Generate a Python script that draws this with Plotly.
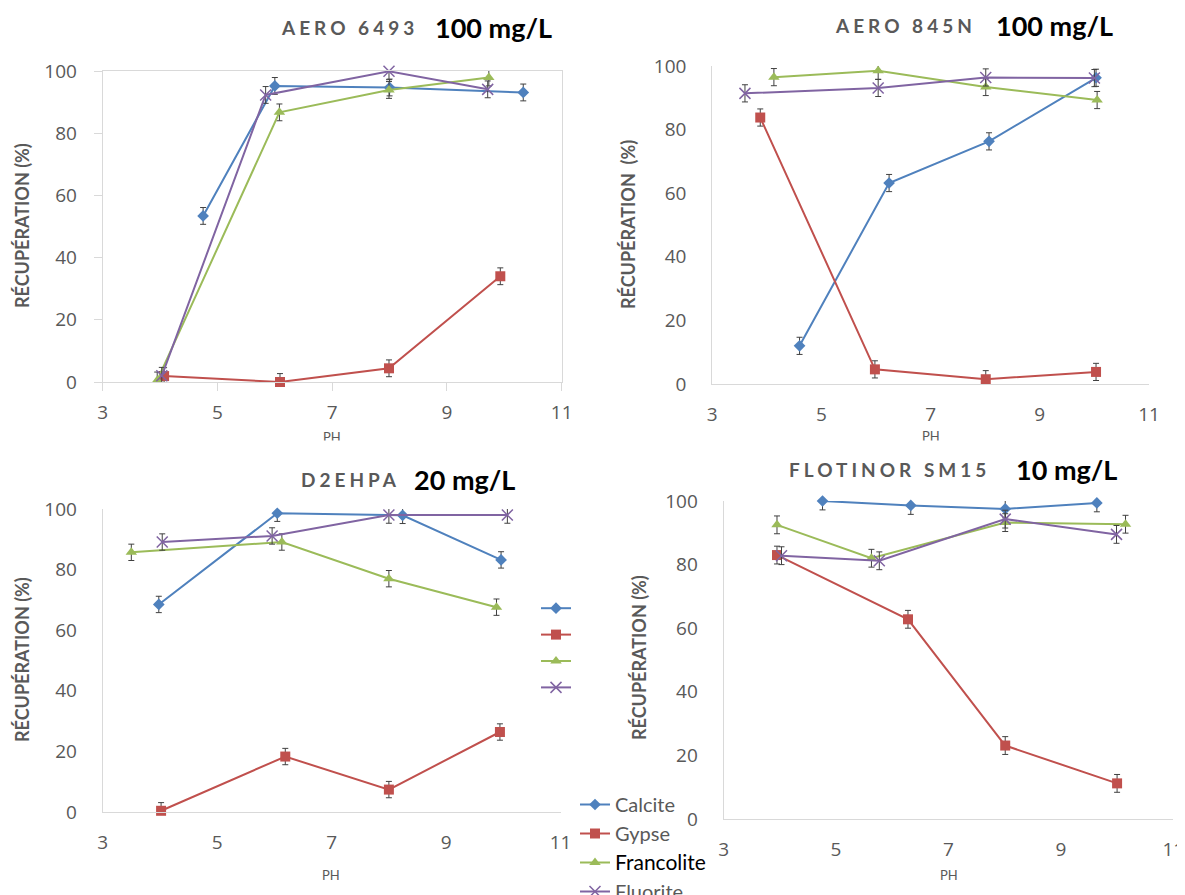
import plotly.graph_objects as go

# The page body has an 8px default margin, so the figure is drawn 8px in.
OFF = 8
W, H = 1185 - OFF, 895 - OFF

# ---------------- data ----------------
minerals = ["Calcite", "Gypse", "Francolite", "Fluorite"]
colors = ["#4F81BD", "#C0504D", "#9BBB59", "#8064A2"]
symbols = ["diamond", "square", "triangle-up", "x-thin-open"]

# Panel 1 : AERO 6493 100 mg/L
p1_calcite_ph = [4.75, 6.0, 8.0, 10.33]
p1_calcite_rec = [53.4, 95.2, 94.7, 93.1]
p1_gypse_ph = [4.07, 6.09, 7.99, 9.93]
p1_gypse_rec = [1.9, 0.0, 4.4, 34.0]
p1_francolite_ph = [3.95, 6.08, 7.99, 9.73]
p1_francolite_rec = [0.5, 86.7, 93.9, 97.9]
p1_fluorite_ph = [4.03, 5.84, 7.99, 9.71]
p1_fluorite_rec = [2.0, 92.3, 99.9, 94.1]

# Panel 2 : AERO 845N 100 mg/L
p2_calcite_ph = [4.6, 6.24, 8.07, 10.03]
p2_calcite_rec = [12.0, 63.2, 76.3, 96.3]
p2_gypse_ph = [3.88, 5.98, 8.01, 10.03]
p2_gypse_rec = [83.8, 4.6, 1.5, 3.8]
p2_francolite_ph = [4.13, 6.04, 8.01, 10.05]
p2_francolite_rec = [96.5, 98.5, 93.4, 89.3]
p2_fluorite_ph = [3.6, 6.04, 8.01, 10.0]
p2_fluorite_rec = [91.4, 93.1, 96.4, 96.2]

# Panel 3 : D2EHPA 20 mg/L
p3_calcite_ph = [3.98, 6.05, 8.24, 9.96]
p3_calcite_rec = [68.5, 98.6, 97.9, 83.2]
p3_gypse_ph = [4.02, 6.19, 8.0, 9.94]
p3_gypse_rec = [0.4, 18.3, 7.4, 26.4]
p3_francolite_ph = [3.5, 6.13, 8.0, 9.88]
p3_francolite_rec = [85.7, 89.1, 77.0, 67.6]
p3_fluorite_ph = [4.04, 5.96, 8.0, 10.07]
p3_fluorite_rec = [89.1, 91.1, 98.0, 98.0]

# Panel 4 : FLOTINOR SM15 10 mg/L
p4_calcite_ph = [4.76, 6.33, 8.01, 9.64]
p4_calcite_rec = [100.0, 98.6, 97.5, 99.4]
p4_gypse_ph = [3.95, 6.28, 8.01, 10.0]
p4_gypse_rec = [83.0, 62.8, 23.1, 11.2]
p4_francolite_ph = [3.95, 5.63, 8.01, 10.15]
p4_francolite_rec = [92.5, 82.0, 93.2, 92.7]
p4_fluorite_ph = [4.03, 5.77, 8.01, 9.99]
p4_fluorite_rec = [82.8, 81.2, 94.3, 89.5]

err_p1 = [2.7, 2.7, 2.7, 2.7]
err_p2 = [2.7, 2.7, 2.7, 2.7]
err_p3 = [2.7, 2.7, 2.7, 2.7]
err_p4 = [2.8, 2.8, 2.8, 2.8]

x_ticks = [3, 5, 7, 9, 11]
y_ticks = [0, 20, 40, 60, 80, 100]

panel_codes = ["AERO 6493", "AERO 845N", "D2EHPA", "FLOTINOR SM15"]
panel_doses = ["100 mg/L", "100 mg/L", "20 mg/L", "10 mg/L"]
y_titles = ["RÉCUPÉRATION (%)", "RÉCUPÉRATION  (%)", "RÉCUPÉRATION (%)", "RÉCUPÉRATION (%)"]
x_title = "PH"

panels = [
    [(p1_calcite_ph, p1_calcite_rec), (p1_gypse_ph, p1_gypse_rec),
     (p1_francolite_ph, p1_francolite_rec), (p1_fluorite_ph, p1_fluorite_rec)],
    [(p2_calcite_ph, p2_calcite_rec), (p2_gypse_ph, p2_gypse_rec),
     (p2_francolite_ph, p2_francolite_rec), (p2_fluorite_ph, p2_fluorite_rec)],
    [(p3_calcite_ph, p3_calcite_rec), (p3_gypse_ph, p3_gypse_rec),
     (p3_francolite_ph, p3_francolite_rec), (p3_fluorite_ph, p3_fluorite_rec)],
    [(p4_calcite_ph, p4_calcite_rec), (p4_gypse_ph, p4_gypse_rec),
     (p4_francolite_ph, p4_francolite_rec), (p4_fluorite_ph, p4_fluorite_rec)],
]
errors = [err_p1, err_p2, err_p3, err_p4]

# ---------------- layout geometry (screen pixels) ----------------
boxes = [
    (102.7, 561.7, 71, 382),
    (712.2, 1149.0, 66, 384),
    (102.7, 560.6, 509, 812),
    (723.6, 1173.3, 501, 819),
]
title_pos = [(279, 433, 27), (833, 994, 25), (299, 412, 479), (787, 1014, 470)]
ytitle_pos = [(22, 226), (628, 225), (22, 660), (639, 658)]
xtitle_pos = [(332, 437), (931, 436), (331, 875), (949, 875)]

FONT = "Lato"
TICKFONT = "Open Sans"
GRAY = "#595959"
AXC = "#D9D9D9"


def px(x):
    return (x - OFF) / W


def py(y):
    return 1 - (y - OFF) / H


fig = go.Figure()

for p in range(4):
    axs = "" if p == 0 else str(p + 1)
    for m in range(4):
        xs, ys = panels[p][m]
        is_x = symbols[m].startswith("x")
        if p == 0:
            lg, show, nm = "legend", True, minerals[m]
            if minerals[m] == "Francolite":
                nm = "<span style='color:#000000;font-size:21px'>Francolite</span>"
        elif p == 2:
            lg, show, nm = "legend2", True, " "
        else:
            lg, show, nm = "legend", False, minerals[m]
        fig.add_trace(go.Scatter(
            x=xs, y=ys, mode="lines+markers", name=nm,
            legend=lg, showlegend=show,
            line=dict(color=colors[m], width=2),
            marker=dict(symbol=symbols[m], size=11 if is_x else (10 if m != 0 else 9),
                        color=colors[m],
                        line=dict(color=colors[m], width=1.5 if is_x else 0)),
            error_y=dict(type="data", array=errors[p], visible=True,
                         color="#404040", thickness=1, width=3),
            cliponaxis=False,
            xaxis="x" + axs, yaxis="y" + axs,
        ))

layout = dict(
    width=W, height=H,
    margin=dict(l=0, r=0, t=0, b=0, autoexpand=False),
    paper_bgcolor="white", plot_bgcolor="rgba(0,0,0,0)",
    font=dict(family=FONT, color=GRAY),
    showlegend=True,
    legend=dict(xref="container", yref="container",
                x=px(575), y=py(785), xanchor="left", yanchor="top",
                font=dict(family=FONT, size=20, color=GRAY),
                bgcolor="rgba(0,0,0,0)", tracegroupgap=0, itemwidth=30),
    legend2=dict(xref="container", yref="container",
                 x=px(536), y=py(590), xanchor="left", yanchor="top",
                 font=dict(family=FONT, size=18, color=GRAY),
                 bgcolor="rgba(0,0,0,0)", tracegroupgap=0, itemwidth=30),
)

annotations = []
for p in range(4):
    l, r, t, b = boxes[p]
    axs = "" if p == 0 else str(p + 1)
    first = p == 0
    layout["xaxis" + axs] = dict(
        domain=[px(l), px(r)], range=[3, 11], tickvals=x_ticks,
        showgrid=False, zeroline=False, showline=True, linecolor=AXC, linewidth=1,
        mirror=first, ticks="outside", ticklen=8,
        tickcolor=AXC if first else "rgba(0,0,0,0)",
        tickfont=dict(family=TICKFONT, size=19, color=GRAY),
        ticklabelstandoff=5, anchor="y" + axs, fixedrange=True,
    )
    layout["yaxis" + axs] = dict(
        domain=[py(b), py(t)], range=[0, 100], tickvals=y_ticks,
        showgrid=False, zeroline=False, showline=True, linecolor=AXC, linewidth=1,
        mirror=first, ticks="outside", ticklen=8,
        tickcolor=AXC if first else "rgba(0,0,0,0)",
        tickfont=dict(family=TICKFONT, size=19, color=GRAY),
        ticklabelstandoff=13, anchor="x" + axs, fixedrange=True,
    )
    cx, dx, ty = title_pos[p]
    annotations.append(dict(
        x=px(cx), y=py(ty), xref="paper", yref="paper", xanchor="left", yanchor="middle",
        text="<b><span style='letter-spacing:4px'>%s</span></b>" % panel_codes[p],
        showarrow=False, font=dict(family=FONT, size=19, color=GRAY)))
    annotations.append(dict(
        x=px(dx), y=py(ty), xref="paper", yref="paper", xanchor="left", yanchor="middle",
        text="<b>%s</b>" % panel_doses[p],
        showarrow=False, font=dict(family=FONT, size=27, color="#000000")))
    yx, yy = ytitle_pos[p]
    annotations.append(dict(
        x=px(yx), y=py(yy), xref="paper", yref="paper", xanchor="center", yanchor="middle",
        text="<b>%s</b>" % y_titles[p], textangle=-90,
        showarrow=False, font=dict(family=FONT, size=18, color=GRAY)))
    xx, xy = xtitle_pos[p]
    annotations.append(dict(
        x=px(xx), y=py(xy), xref="paper", yref="paper", xanchor="center", yanchor="middle",
        text=x_title, showarrow=False, font=dict(family=FONT, size=13, color=GRAY)))

# white covers that cut the lower part of the top "PH" labels (panel images are cropped)
for xx in (332, 931):
    annotations.append(dict(
        x=px(xx), y=py(440), xref="paper", yref="paper", xanchor="center", yanchor="top",
        text=" ", width=40, height=14, bgcolor="white", showarrow=False,
        font=dict(size=8)))

layout["annotations"] = annotations
fig.update_layout(**layout)
fig.write_html("out.html")
